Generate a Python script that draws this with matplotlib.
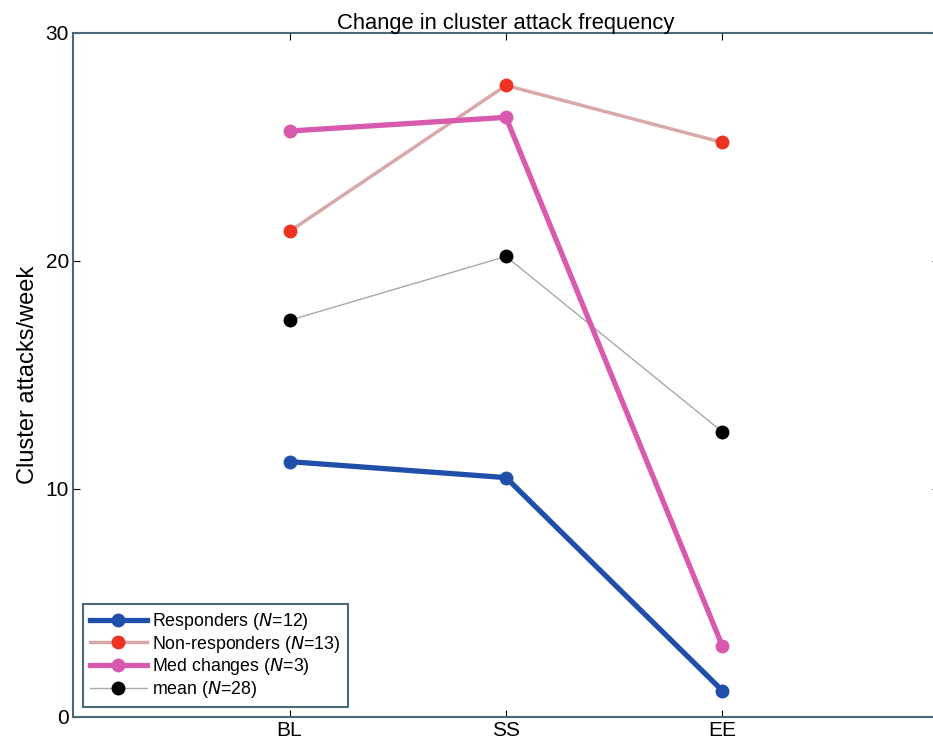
import numpy as np
import matplotlib
matplotlib.use("Agg")
import matplotlib.pyplot as plt

plt.rcParams['font.family'] = ['Liberation Sans', 'DejaVu Sans']

# Datos
fases = ["BL", "SS", "EE"]
responders = [11.2, 10.5, 1.15]
non_responders = [21.3, 27.7, 25.2]
med_changes = [25.7, 26.3, 3.1]
media = [17.4, 20.2, 12.5]

x = np.arange(1, len(fases) + 1)

fig = plt.figure(figsize=(9.33, 7.43), dpi=100)
ax = fig.add_axes([73/933, 26/743, 866/933, 684/743])

ax.plot(x, non_responders, '-', color='#d9a8a8', lw=2.5, marker='o', ms=9,
        mfc='#ee3322', mec='#ee3322', label='Non-responders ($N$=13)')
ax.plot(x, media, '-', color='#a8a8a8', lw=1.0, marker='o', ms=9,
        mfc='black', mec='black', label='mean ($N$=28)')
ax.plot(x, med_changes, '-', color='#d85aae', lw=3.8, marker='o', ms=9,
        mfc='#d85aae', mec='#d85aae', label='Med changes ($N$=3)')
ax.plot(x, responders, '-', color='#1f4fa8', lw=3.8, marker='o', ms=9,
        mfc='#1f4fa8', mec='#1f4fa8', label='Responders ($N$=12)')

ax.set_xlim(0, 4)
ax.set_ylim(0, 30)
ax.set_xticks(x)
ax.set_xticklabels(fases)
ax.set_yticks([0, 10, 20, 30])
ax.tick_params(direction='in', top=True, right=True, labelsize=15, length=5, pad=3)
for s in ax.spines.values():
    s.set_color('#4a6a78')
    s.set_linewidth(1.5)

ax.set_title("Change in cluster attack frequency", fontsize=15.8, pad=3)
ax.set_ylabel("Cluster attacks/week", fontsize=17, labelpad=5)

h, l = ax.get_legend_handles_labels()
orden = [3, 0, 2, 1]
leg = ax.legend([h[i] for i in orden], [l[i] for i in orden], loc='lower left',
                fontsize=12.8, handlelength=3.2, fancybox=False, framealpha=1,
                borderaxespad=0.55, labelspacing=0.1, handletextpad=0.3,
                borderpad=0.4)
leg.get_frame().set_edgecolor('#4a6a78')
leg.get_frame().set_linewidth(1.5)

fig.savefig("out.png", dpi=100)
